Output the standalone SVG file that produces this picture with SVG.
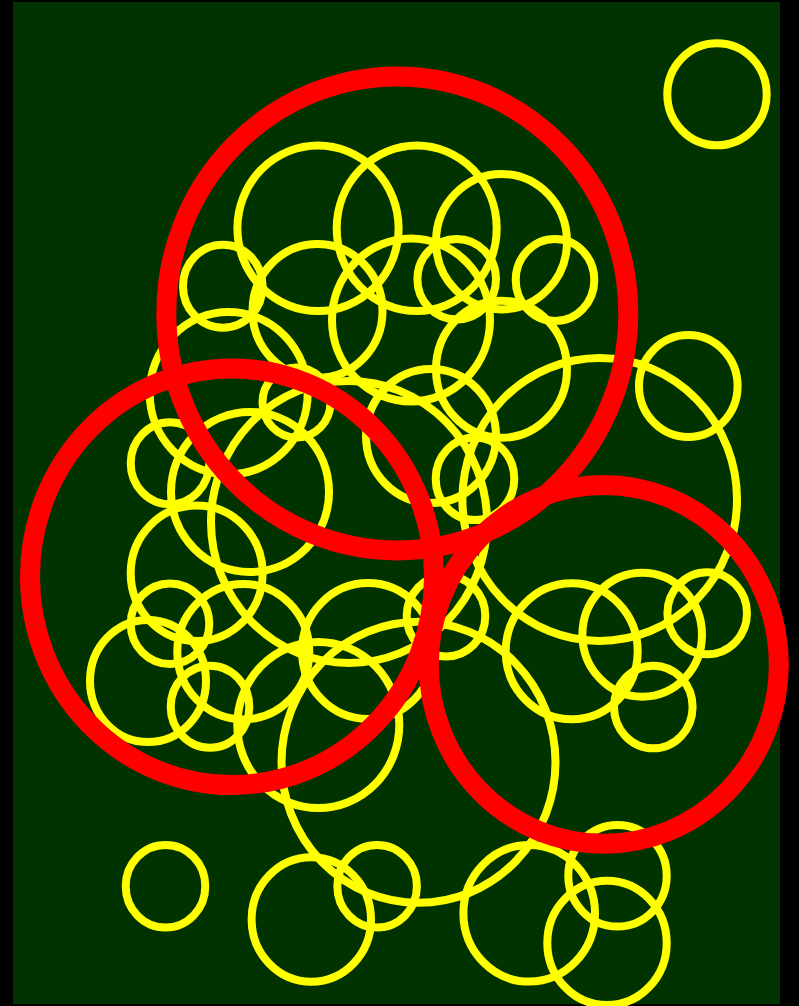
<svg xmlns="http://www.w3.org/2000/svg" width="799" height="1006" viewBox="0 0 799 1006">
<style>
.y{fill:none;stroke:#ffff00;stroke-width:8}
.r{fill:none;stroke:#ff0000;stroke-width:20}
</style>
<rect x="0" y="0" width="799" height="1006" fill="#000000"/>
<rect x="13" y="2" width="767" height="1002" fill="#003300"/>
<g id="yellow-circles">
<ellipse class="y" cx="717" cy="94.3" rx="49.7" ry="51"/>
<ellipse class="y" cx="318" cy="228.3" rx="80.6" ry="82.7"/>
<ellipse class="y" cx="416.7" cy="228.3" rx="80" ry="82.7"/>
<ellipse class="y" cx="501.5" cy="241.7" rx="65.5" ry="67.7"/>
<ellipse class="y" cx="222.8" cy="286.2" rx="39.8" ry="41.5"/>
<ellipse class="y" cx="317.5" cy="311" rx="65" ry="67"/>
<ellipse class="y" cx="411" cy="320" rx="79" ry="81.5"/>
<ellipse class="y" cx="456.7" cy="279.2" rx="39.3" ry="40.2"/>
<ellipse class="y" cx="555" cy="280" rx="39.3" ry="41"/>
<ellipse class="y" cx="228.7" cy="393.2" rx="79" ry="81.2"/>
<ellipse class="y" cx="501.5" cy="369.2" rx="65.5" ry="68.5"/>
<ellipse class="y" cx="296.5" cy="402.5" rx="34" ry="35"/>
<ellipse class="y" cx="688.3" cy="386" rx="49.3" ry="51"/>
<ellipse class="y" cx="599.7" cy="499.5" rx="137.3" ry="141.5"/>
<ellipse class="y" cx="431" cy="436" rx="65" ry="67"/>
<ellipse class="y" cx="250" cy="492" rx="79" ry="80"/>
<ellipse class="y" cx="349" cy="522" rx="138" ry="141"/>
<ellipse class="y" cx="170" cy="463.3" rx="39.3" ry="41"/>
<ellipse class="y" cx="475" cy="478.7" rx="39.3" ry="41.3"/>
<ellipse class="y" cx="196.7" cy="573.3" rx="66" ry="67.7"/>
<ellipse class="y" cx="170" cy="623.7" rx="39.3" ry="40.3"/>
<ellipse class="y" cx="243.3" cy="651.7" rx="66" ry="67.7"/>
<ellipse class="y" cx="148" cy="681" rx="58" ry="61"/>
<ellipse class="y" cx="210" cy="706.7" rx="39.3" ry="41"/>
<ellipse class="y" cx="368" cy="651" rx="66" ry="68"/>
<ellipse class="y" cx="446" cy="616" rx="39.3" ry="40.5"/>
<ellipse class="y" cx="318.3" cy="725" rx="81" ry="83"/>
<ellipse class="y" cx="418.5" cy="762.3" rx="137" ry="140.5"/>
<ellipse class="y" cx="571.7" cy="651.3" rx="66" ry="68"/>
<ellipse class="y" cx="642.2" cy="634.7" rx="59.8" ry="62"/>
<ellipse class="y" cx="707.2" cy="613.3" rx="39.8" ry="41"/>
<ellipse class="y" cx="653.3" cy="707" rx="39.3" ry="41.3"/>
<ellipse class="y" cx="165.5" cy="886.3" rx="39.8" ry="41.3"/>
<ellipse class="y" cx="311.3" cy="919.5" rx="59.7" ry="62.2"/>
<ellipse class="y" cx="377.1" cy="886.3" rx="39.8" ry="41.3"/>
<ellipse class="y" cx="529.2" cy="913.3" rx="65.8" ry="68.3"/>
<ellipse class="y" cx="617.5" cy="875.8" rx="49.2" ry="50.8"/>
<ellipse class="y" cx="607" cy="942.9" rx="59.7" ry="62.2"/>
</g>
<g id="red-circles">
<ellipse class="r" cx="397.3" cy="313.4" rx="231" ry="237"/>
<ellipse class="r" cx="232" cy="576.7" rx="202" ry="208.3"/>
<ellipse class="r" cx="603.8" cy="664.4" rx="175" ry="179.4"/>
</g>
</svg>
